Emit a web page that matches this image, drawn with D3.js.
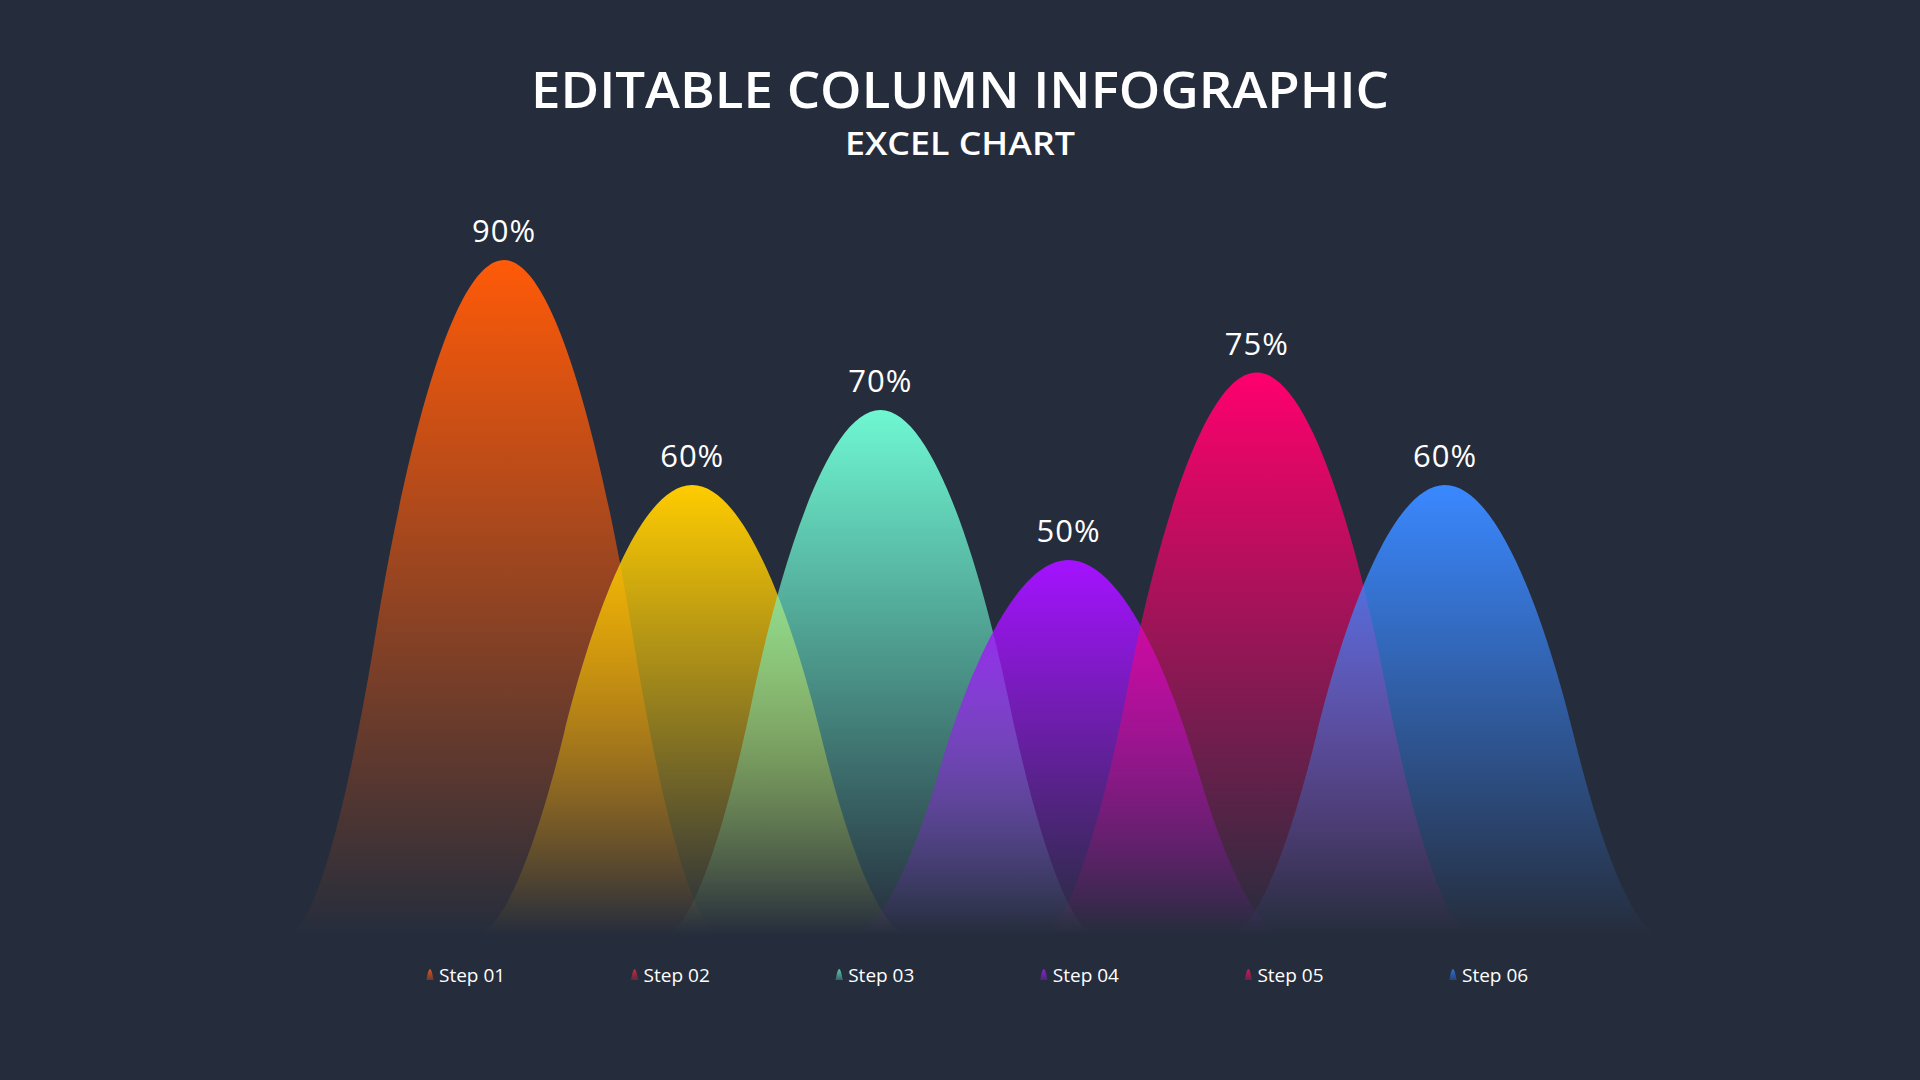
<!DOCTYPE html>
<html>
<head>
<meta charset="utf-8">
<script src="https://cdnjs.cloudflare.com/ajax/libs/d3/7.8.5/d3.min.js"></script>
<style>
html,body{margin:0;padding:0;background:#252D3C;}
svg{display:block;}
</style>
</head>
<body>
<svg id="chart" width="1920" height="1080"></svg>
<script>
const categories = ["Step 01","Step 02","Step 03","Step 04","Step 05","Step 06"];
const values = [90, 60, 70, 50, 75, 60];
const labels = ["90%","60%","70%","50%","75%","60%"];
const colors = ["#FF5A08","#FFCC00","#6FF7D2","#A412FF","#FF006E","#3A88FF"];
const legendColors = ["#E0561A","#C8283C","#5CC9AE","#8A22D8","#D6155E","#2E6FD8"];
const titleText = "EDITABLE COLUMN INFOGRAPHIC";
const subtitleText = "EXCEL CHART";

const W = 1920, H = 1080;
const svg = d3.select("#chart");
const fontFam = "'Open Sans','Noto Sans',Lato,sans-serif";

const x = d3.scalePoint().domain(categories).range([504, 1445]);
const y = d3.scaleLinear().domain([0, 100]).range([935, 185]);
const legendX = d3.scalePoint().domain(categories).range([430, 1453]);

const defs = svg.append("defs");
categories.forEach((c, i) => {
  const g = defs.append("linearGradient").attr("id", "g" + i)
    .attr("x1", 0).attr("y1", 0).attr("x2", 0).attr("y2", 1);
  g.append("stop").attr("offset", 0).attr("stop-color", colors[i]).attr("stop-opacity", 1);
  g.append("stop").attr("offset", 0.5).attr("stop-color", colors[i]).attr("stop-opacity", 0.5);
  g.append("stop").attr("offset", 1).attr("stop-color", colors[i]).attr("stop-opacity", 0);
  const lg = defs.append("linearGradient").attr("id", "lg" + i)
    .attr("x1", 0).attr("y1", 0).attr("x2", 0).attr("y2", 1);
  lg.append("stop").attr("offset", 0).attr("stop-color", legendColors[i]).attr("stop-opacity", 1);
  lg.append("stop").attr("offset", 1).attr("stop-color", legendColors[i]).attr("stop-opacity", 0.35);
});

// bell shape path: half width hw at base, kink offset a at 45% height
function bell(cx, top, base, hw, a) {
  const h = base - top;
  const k = 0.45;
  const p = d3.path();
  p.moveTo(cx - hw, base);
  p.bezierCurveTo(cx - hw * 0.85, base, cx - a * 1.17, base - 0.25 * h, cx - a, base - k * h);
  p.bezierCurveTo(cx - a * 0.845, base - 0.63 * h, cx - a * 0.46, top, cx, top);
  p.bezierCurveTo(cx + a * 0.46, top, cx + a * 0.845, base - 0.63 * h, cx + a, base - k * h);
  p.bezierCurveTo(cx + a * 1.17, base - 0.25 * h, cx + hw * 0.85, base, cx + hw, base);
  p.closePath();
  return p.toString();
}

const base = y(0);
svg.append("g").selectAll("path").data(categories).join("path")
  .attr("d", (c, i) => bell(x(c), y(values[i]), base, 218, 128))
  .attr("fill", (c, i) => `url(#g${i})`);

svg.append("g").selectAll("text").data(categories).join("text")
  .attr("x", c => x(c))
  .attr("y", (c, i) => y(values[i]) - 18)
  .attr("text-anchor", "middle")
  .attr("fill", "#FFFFFF")
  .attr("font-family", fontFam)
  .attr("font-size", 31)
  .attr("font-weight", 400)
  .attr("letter-spacing", 1)
  .text((c, i) => labels[i]);

svg.append("text").attr("x", W / 2).attr("y", 108)
  .attr("text-anchor", "middle").attr("fill", "#FFFFFF")
  .attr("font-family", fontFam).attr("font-size", 50).attr("font-weight", 600)
  .attr("textLength", 858).attr("lengthAdjust", "spacingAndGlyphs")
  .text(titleText);
svg.append("text").attr("x", W / 2).attr("y", 155)
  .attr("text-anchor", "middle").attr("fill", "#FFFFFF")
  .attr("font-family", fontFam).attr("font-size", 32).attr("font-weight", 600)
  .attr("textLength", 230).attr("lengthAdjust", "spacingAndGlyphs")
  .text(subtitleText);

const leg = svg.append("g").selectAll("g").data(categories).join("g")
  .attr("transform", c => `translate(${legendX(c)},975)`);
leg.append("path")
  .attr("d", bell(0, -6, 5, 4, 2.6))
  .attr("fill", (c, i) => `url(#lg${i})`);
leg.append("text").attr("x", 9).attr("y", 7)
  .attr("fill", "#FFFFFF").attr("font-family", fontFam)
  .attr("font-size", 19).attr("font-weight", 400)
  .text(c => c);
</script>
</body>
</html>
